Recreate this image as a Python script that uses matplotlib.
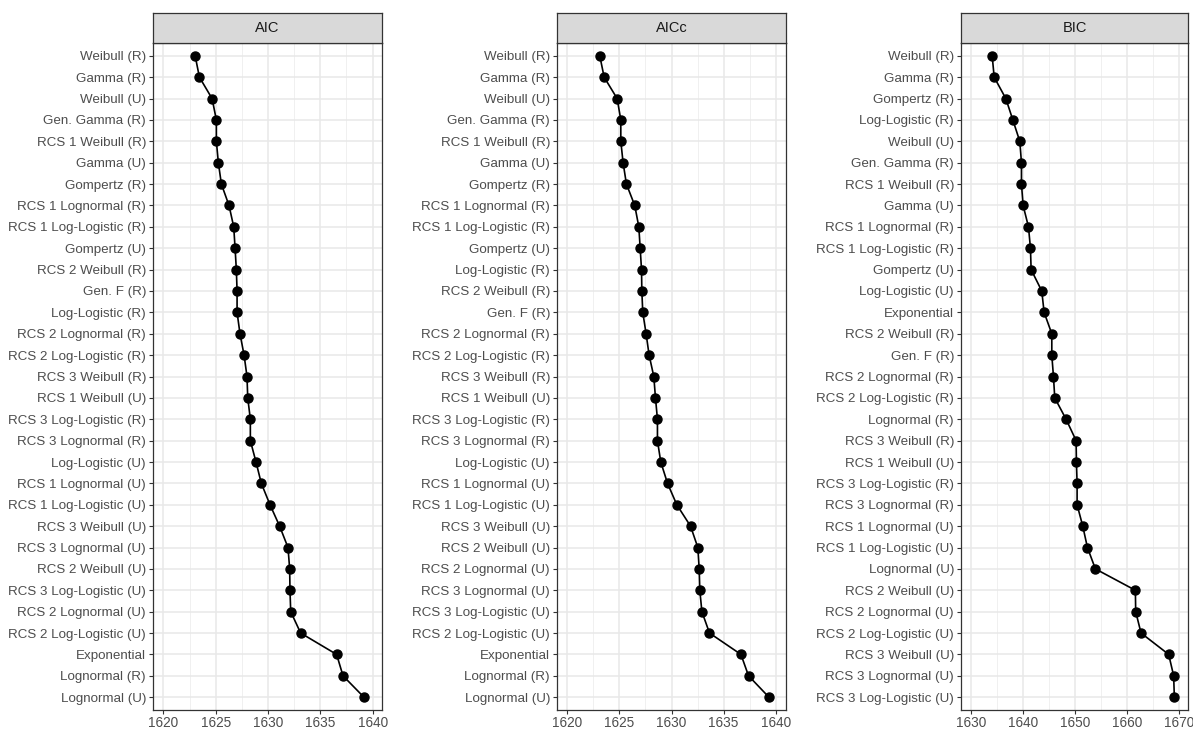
import matplotlib
matplotlib.use("Agg")
import matplotlib.pyplot as plt
from matplotlib.ticker import MultipleLocator

plt.rcParams['font.family'] = ['Liberation Sans', 'DejaVu Sans']

# model order (top to bottom) and criterion values, one panel per criterion
aic_models = ["Weibull (R)", "Gamma (R)", "Weibull (U)", "Gen. Gamma (R)", "RCS 1 Weibull (R)",
              "Gamma (U)", "Gompertz (R)", "RCS 1 Lognormal (R)", "RCS 1 Log-Logistic (R)",
              "Gompertz (U)", "RCS 2 Weibull (R)", "Gen. F (R)", "Log-Logistic (R)",
              "RCS 2 Lognormal (R)", "RCS 2 Log-Logistic (R)", "RCS 3 Weibull (R)",
              "RCS 1 Weibull (U)", "RCS 3 Log-Logistic (R)", "RCS 3 Lognormal (R)",
              "Log-Logistic (U)", "RCS 1 Lognormal (U)", "RCS 1 Log-Logistic (U)",
              "RCS 3 Weibull (U)", "RCS 3 Lognormal (U)", "RCS 2 Weibull (U)",
              "RCS 3 Log-Logistic (U)", "RCS 2 Lognormal (U)", "RCS 2 Log-Logistic (U)",
              "Exponential", "Lognormal (R)", "Lognormal (U)"]
aic_values = [1623.03, 1623.44, 1624.65, 1625.06, 1625.06, 1625.25, 1625.54, 1626.27,
              1626.72, 1626.85, 1626.97, 1627.04, 1627.04, 1627.32, 1627.71, 1627.99,
              1628.06, 1628.31, 1628.31, 1628.85, 1629.36, 1630.19, 1631.11, 1631.91,
              1632.07, 1632.10, 1632.17, 1633.12, 1636.56, 1637.17, 1639.17]

aicc_models = ["Weibull (R)", "Gamma (R)", "Weibull (U)", "Gen. Gamma (R)", "RCS 1 Weibull (R)",
               "Gamma (U)", "Gompertz (R)", "RCS 1 Lognormal (R)", "RCS 1 Log-Logistic (R)",
               "Gompertz (U)", "Log-Logistic (R)", "RCS 2 Weibull (R)", "Gen. F (R)",
               "RCS 2 Lognormal (R)", "RCS 2 Log-Logistic (R)", "RCS 3 Weibull (R)",
               "RCS 1 Weibull (U)", "RCS 3 Log-Logistic (R)", "RCS 3 Lognormal (R)",
               "Log-Logistic (U)", "RCS 1 Lognormal (U)", "RCS 1 Log-Logistic (U)",
               "RCS 3 Weibull (U)", "RCS 2 Weibull (U)", "RCS 2 Lognormal (U)",
               "RCS 3 Lognormal (U)", "RCS 3 Log-Logistic (U)", "RCS 2 Log-Logistic (U)",
               "Exponential", "Lognormal (R)", "Lognormal (U)"]
aicc_values = [1623.11, 1623.53, 1624.78, 1625.13, 1625.13, 1625.35, 1625.67, 1626.47,
               1626.86, 1626.99, 1627.12, 1627.15, 1627.24, 1627.56, 1627.85, 1628.30,
               1628.46, 1628.65, 1628.65, 1628.97, 1629.62, 1630.51, 1631.83, 1632.53,
               1632.66, 1632.72, 1632.92, 1633.65, 1636.67, 1637.40, 1639.36]

bic_models = ["Weibull (R)", "Gamma (R)", "Gompertz (R)", "Log-Logistic (R)", "Weibull (U)",
              "Gen. Gamma (R)", "RCS 1 Weibull (R)", "Gamma (U)", "RCS 1 Lognormal (R)",
              "RCS 1 Log-Logistic (R)", "Gompertz (U)", "Log-Logistic (U)", "Exponential",
              "RCS 2 Weibull (R)", "Gen. F (R)", "RCS 2 Lognormal (R)", "RCS 2 Log-Logistic (R)",
              "Lognormal (R)", "RCS 3 Weibull (R)", "RCS 1 Weibull (U)", "RCS 3 Log-Logistic (R)",
              "RCS 3 Lognormal (R)", "RCS 1 Lognormal (U)", "RCS 1 Log-Logistic (U)",
              "Lognormal (U)", "RCS 2 Weibull (U)", "RCS 2 Lognormal (U)",
              "RCS 2 Log-Logistic (U)", "RCS 3 Weibull (U)", "RCS 3 Lognormal (U)",
              "RCS 3 Log-Logistic (U)"]
bic_values = [1634.10, 1634.49, 1636.73, 1638.08, 1639.42, 1639.74, 1639.74, 1640.06,
              1641.09, 1641.47, 1641.60, 1643.65, 1644.10, 1645.58, 1645.58, 1645.90,
              1646.15, 1648.33, 1650.26, 1650.32, 1650.45, 1650.45, 1651.54, 1652.44,
              1653.97, 1661.67, 1661.73, 1662.76, 1668.08, 1669.04, 1669.17]

W, H = 1193, 729
fig = plt.figure(figsize=(W / 100, H / 100), dpi=100)

# (title, models, values, left px, right px, xlim, major, minor)
panels = [
    ("AIC", aic_models, aic_values, 153, 382, (1619.0, 1640.9), 5, 2.5),
    ("AICc", aicc_models, aicc_values, 557, 786, (1619.0, 1641.0), 5, 2.5),
    ("BIC", bic_models, bic_values, 961, 1188, (1628.1, 1671.8), 10, 5),
]
top_px, bot_px, strip_px = 43, 710, 30

for title, models, values, lpx, rpx, xlim, major, minor in panels:
    ax = fig.add_axes([lpx / W, 1 - bot_px / H, (rpx - lpx) / W, (bot_px - top_px) / H])
    y = list(range(len(models)))
    ax.plot(values, y, color="black", linewidth=1.2, marker="o", markersize=6.5, zorder=3)
    ax.set_xlim(*xlim)
    ax.set_ylim(len(models) - 1 + 0.6, -0.6)
    ax.set_yticks(y)
    ax.set_yticklabels(models)
    ax.xaxis.set_major_locator(MultipleLocator(major))
    ax.xaxis.set_minor_locator(MultipleLocator(minor))
    ax.grid(True, which="major", color="#E8E8E8", linewidth=1.1, zorder=0)
    ax.grid(True, which="minor", axis="x", color="#F0F0F0", linewidth=0.7, zorder=0)
    ax.tick_params(axis="both", which="major", labelsize=9.6, labelcolor="#4D4D4D",
                   color="#333333", length=3, width=0.8, pad=2)
    ax.tick_params(axis="x", which="major", labelsize=9.8, pad=1.5)
    ax.tick_params(axis="x", which="minor", length=0)
    for s in ax.spines.values():
        s.set_color("#333333")
        s.set_linewidth(0.9)
    ax.set_axisbelow(True)

    # facet strip on top of the panel
    sax = fig.add_axes([lpx / W, 1 - top_px / H, (rpx - lpx) / W, strip_px / H])
    sax.set_xticks([])
    sax.set_yticks([])
    sax.set_facecolor("#D9D9D9")
    for s in sax.spines.values():
        s.set_color("#333333")
        s.set_linewidth(0.9)
    sax.text(0.5, 0.5, title, ha="center", va="center", fontsize=10.5, color="#1A1A1A",
             transform=sax.transAxes)

fig.savefig("out.png", dpi=100, facecolor="white")
